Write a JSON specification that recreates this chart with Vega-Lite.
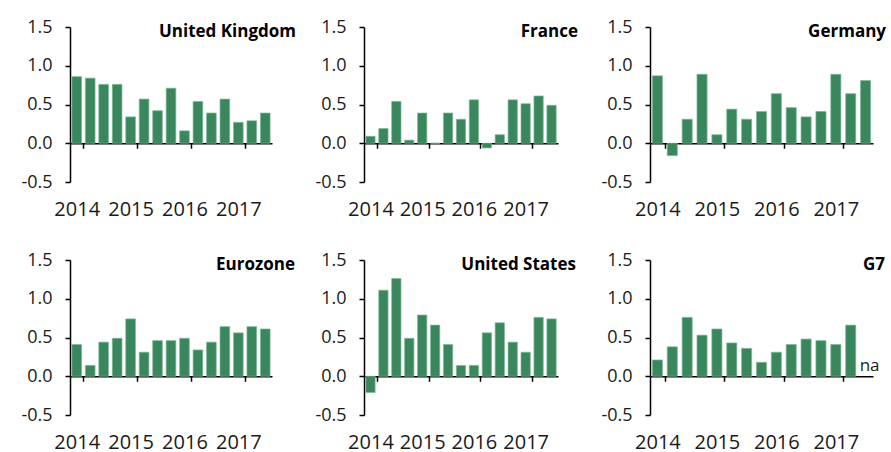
{
  "$schema": "https://vega.github.io/schema/vega-lite/v6.json",
  "background": "white",
  "padding": {"left": 20, "top": 18, "right": 0, "bottom": 0},
  "autosize": {"type": "pad"},
  "config": {
    "font": "Open Sans",
    "view": {"stroke": null},
    "title": {"font": "Open Sans", "fontSize": 17, "fontWeight": "bold", "color": "#000000", "anchor": "end", "frame": "group", "offset": -23},
    "axisY": {"domainColor": "#000000", "domainWidth": 1.5, "tickColor": "#000000", "tickWidth": 1.5, "tickSize": 5, "labelPadding": 13, "labelFontSize": 18, "labelColor": "#1a1a1a", "labelFont": "Open Sans", "labelOverlap": false, "labelFlush": false, "grid": false, "title": null},
    "axisX": {"domain": true, "domainColor": "#000000", "domainWidth": 1.5, "ticks": true, "tickBand": "extent", "tickColor": "#000000", "tickWidth": 1.5, "tickSize": 5, "offset": -38.75, "labelFontSize": 20, "labelColor": "#1a1a1a", "labelFont": "Open Sans", "labelPadding": 51, "labelAngle": 0, "labelOverlap": false, "grid": false, "title": null}
  },
  "datasets": {
    "gdp": [
      {"c": "United Kingdom", "q": "2014Q1", "v": 0.86}, {"c": "United Kingdom", "q": "2014Q2", "v": 0.84}, {"c": "United Kingdom", "q": "2014Q3", "v": 0.76}, {"c": "United Kingdom", "q": "2014Q4", "v": 0.76},
      {"c": "United Kingdom", "q": "2015Q1", "v": 0.34}, {"c": "United Kingdom", "q": "2015Q2", "v": 0.57}, {"c": "United Kingdom", "q": "2015Q3", "v": 0.42}, {"c": "United Kingdom", "q": "2015Q4", "v": 0.71},
      {"c": "United Kingdom", "q": "2016Q1", "v": 0.16}, {"c": "United Kingdom", "q": "2016Q2", "v": 0.54}, {"c": "United Kingdom", "q": "2016Q3", "v": 0.39}, {"c": "United Kingdom", "q": "2016Q4", "v": 0.57},
      {"c": "United Kingdom", "q": "2017Q1", "v": 0.27}, {"c": "United Kingdom", "q": "2017Q2", "v": 0.29}, {"c": "United Kingdom", "q": "2017Q3", "v": 0.39},
      {"c": "France", "q": "2014Q1", "v": 0.09}, {"c": "France", "q": "2014Q2", "v": 0.19}, {"c": "France", "q": "2014Q3", "v": 0.54}, {"c": "France", "q": "2014Q4", "v": 0.04},
      {"c": "France", "q": "2015Q1", "v": 0.39}, {"c": "France", "q": "2015Q2", "v": 0.0}, {"c": "France", "q": "2015Q3", "v": 0.39}, {"c": "France", "q": "2015Q4", "v": 0.31},
      {"c": "France", "q": "2016Q1", "v": 0.56}, {"c": "France", "q": "2016Q2", "v": -0.06}, {"c": "France", "q": "2016Q3", "v": 0.11}, {"c": "France", "q": "2016Q4", "v": 0.56},
      {"c": "France", "q": "2017Q1", "v": 0.51}, {"c": "France", "q": "2017Q2", "v": 0.61}, {"c": "France", "q": "2017Q3", "v": 0.49},
      {"c": "Germany", "q": "2014Q1", "v": 0.87}, {"c": "Germany", "q": "2014Q2", "v": -0.16}, {"c": "Germany", "q": "2014Q3", "v": 0.31}, {"c": "Germany", "q": "2014Q4", "v": 0.89},
      {"c": "Germany", "q": "2015Q1", "v": 0.11}, {"c": "Germany", "q": "2015Q2", "v": 0.44}, {"c": "Germany", "q": "2015Q3", "v": 0.31}, {"c": "Germany", "q": "2015Q4", "v": 0.41},
      {"c": "Germany", "q": "2016Q1", "v": 0.64}, {"c": "Germany", "q": "2016Q2", "v": 0.46}, {"c": "Germany", "q": "2016Q3", "v": 0.34}, {"c": "Germany", "q": "2016Q4", "v": 0.41},
      {"c": "Germany", "q": "2017Q1", "v": 0.89}, {"c": "Germany", "q": "2017Q2", "v": 0.64}, {"c": "Germany", "q": "2017Q3", "v": 0.81},
      {"c": "Eurozone", "q": "2014Q1", "v": 0.41}, {"c": "Eurozone", "q": "2014Q2", "v": 0.14}, {"c": "Eurozone", "q": "2014Q3", "v": 0.44}, {"c": "Eurozone", "q": "2014Q4", "v": 0.49},
      {"c": "Eurozone", "q": "2015Q1", "v": 0.74}, {"c": "Eurozone", "q": "2015Q2", "v": 0.31}, {"c": "Eurozone", "q": "2015Q3", "v": 0.46}, {"c": "Eurozone", "q": "2015Q4", "v": 0.46},
      {"c": "Eurozone", "q": "2016Q1", "v": 0.49}, {"c": "Eurozone", "q": "2016Q2", "v": 0.34}, {"c": "Eurozone", "q": "2016Q3", "v": 0.44}, {"c": "Eurozone", "q": "2016Q4", "v": 0.64},
      {"c": "Eurozone", "q": "2017Q1", "v": 0.56}, {"c": "Eurozone", "q": "2017Q2", "v": 0.64}, {"c": "Eurozone", "q": "2017Q3", "v": 0.61},
      {"c": "United States", "q": "2014Q1", "v": -0.21}, {"c": "United States", "q": "2014Q2", "v": 1.11}, {"c": "United States", "q": "2014Q3", "v": 1.26}, {"c": "United States", "q": "2014Q4", "v": 0.49},
      {"c": "United States", "q": "2015Q1", "v": 0.79}, {"c": "United States", "q": "2015Q2", "v": 0.66}, {"c": "United States", "q": "2015Q3", "v": 0.41}, {"c": "United States", "q": "2015Q4", "v": 0.14},
      {"c": "United States", "q": "2016Q1", "v": 0.14}, {"c": "United States", "q": "2016Q2", "v": 0.56}, {"c": "United States", "q": "2016Q3", "v": 0.69}, {"c": "United States", "q": "2016Q4", "v": 0.44},
      {"c": "United States", "q": "2017Q1", "v": 0.31}, {"c": "United States", "q": "2017Q2", "v": 0.76}, {"c": "United States", "q": "2017Q3", "v": 0.74},
      {"c": "G7", "q": "2014Q1", "v": 0.21}, {"c": "G7", "q": "2014Q2", "v": 0.38}, {"c": "G7", "q": "2014Q3", "v": 0.76}, {"c": "G7", "q": "2014Q4", "v": 0.53},
      {"c": "G7", "q": "2015Q1", "v": 0.61}, {"c": "G7", "q": "2015Q2", "v": 0.43}, {"c": "G7", "q": "2015Q3", "v": 0.36}, {"c": "G7", "q": "2015Q4", "v": 0.18},
      {"c": "G7", "q": "2016Q1", "v": 0.31}, {"c": "G7", "q": "2016Q2", "v": 0.41}, {"c": "G7", "q": "2016Q3", "v": 0.48}, {"c": "G7", "q": "2016Q4", "v": 0.46},
      {"c": "G7", "q": "2017Q1", "v": 0.41}, {"c": "G7", "q": "2017Q2", "v": 0.66}, {"c": "G7", "q": "2017Q3", "v": null, "note": "na"}
    ]
  },
  "data": {"name": "gdp"},
  "columns": 3,
  "spacing": {"column": 92, "row": 78},
  "bounds": "flush",
  "concat": [
    {
      "width": 202, "height": 155,
      "title": {"text": "United Kingdom", "dx": 24},
      "transform": [{"filter": "datum.c === 'United Kingdom'"}],
      "mark": {"type": "bar", "width": {"band": 0.72}, "color": "#3a875e", "stroke": "#80b89b", "strokeWidth": 0.7},
      "encoding": {
        "x": {"field": "q", "type": "ordinal", "scale": {"type": "band", "domain": ["2014Q1","2014Q2","2014Q3","2014Q4","2015Q1","2015Q2","2015Q3","2015Q4","2016Q1","2016Q2","2016Q3","2016Q4","2017Q1","2017Q2","2017Q3"], "paddingInner": 0, "paddingOuter": 0}, "axis": {"labelExpr": "indexof(datum.label, 'Q1') > 0 ? slice(datum.label, 0, 4) : ''", "tickOpacity": {"condition": {"test": "indexof(datum.value + '', 'Q1') > 0", "value": 1}, "value": 0}}},
        "y": {"field": "v", "type": "quantitative", "scale": {"domain": [-0.5, 1.5], "nice": false, "zero": false}, "axis": {"values": [-0.5, 0, 0.5, 1, 1.5], "format": ".1f", "labelOverlap": false, "labelFontSize": 18, "labelExpr": "replace(datum.label, '\u2212', '-')"}}
      }
    },
    {
      "width": 194, "height": 155,
      "title": {"text": "France", "dx": 20},
      "transform": [{"filter": "datum.c === 'France'"}],
      "mark": {"type": "bar", "width": {"band": 0.72}, "color": "#3a875e", "stroke": "#80b89b", "strokeWidth": 0.7},
      "encoding": {
        "x": {"field": "q", "type": "ordinal", "scale": {"type": "band", "domain": ["2014Q1","2014Q2","2014Q3","2014Q4","2015Q1","2015Q2","2015Q3","2015Q4","2016Q1","2016Q2","2016Q3","2016Q4","2017Q1","2017Q2","2017Q3"], "paddingInner": 0, "paddingOuter": 0}, "axis": {"labelExpr": "indexof(datum.label, 'Q1') > 0 ? slice(datum.label, 0, 4) : ''", "tickOpacity": {"condition": {"test": "indexof(datum.value + '', 'Q1') > 0", "value": 1}, "value": 0}}},
        "y": {"field": "v", "type": "quantitative", "scale": {"domain": [-0.5, 1.5], "nice": false, "zero": false}, "axis": {"values": [-0.5, 0, 0.5, 1, 1.5], "format": ".1f", "labelOverlap": false, "labelFontSize": 18, "labelExpr": "replace(datum.label, '\u2212', '-')"}}
      }
    },
    {
      "width": 223, "height": 155,
      "title": {"text": "Germany", "dx": 13},
      "transform": [{"filter": "datum.c === 'Germany'"}],
      "mark": {"type": "bar", "width": {"band": 0.68}, "color": "#3a875e", "stroke": "#80b89b", "strokeWidth": 0.7},
      "encoding": {
        "x": {"field": "q", "type": "ordinal", "scale": {"type": "band", "domain": ["2014Q1","2014Q2","2014Q3","2014Q4","2015Q1","2015Q2","2015Q3","2015Q4","2016Q1","2016Q2","2016Q3","2016Q4","2017Q1","2017Q2","2017Q3"], "paddingInner": 0, "paddingOuter": 0}, "axis": {"labelExpr": "indexof(datum.label, 'Q1') > 0 ? slice(datum.label, 0, 4) : ''", "tickOpacity": {"condition": {"test": "indexof(datum.value + '', 'Q1') > 0", "value": 1}, "value": 0}}},
        "y": {"field": "v", "type": "quantitative", "scale": {"domain": [-0.5, 1.5], "nice": false, "zero": false}, "axis": {"values": [-0.5, 0, 0.5, 1, 1.5], "format": ".1f", "labelOverlap": false, "labelFontSize": 18, "labelExpr": "replace(datum.label, '\u2212', '-')"}}
      }
    },
    {
      "width": 202, "height": 155,
      "title": {"text": "Eurozone", "dx": 23},
      "transform": [{"filter": "datum.c === 'Eurozone'"}],
      "mark": {"type": "bar", "width": {"band": 0.72}, "color": "#3a875e", "stroke": "#80b89b", "strokeWidth": 0.7},
      "encoding": {
        "x": {"field": "q", "type": "ordinal", "scale": {"type": "band", "domain": ["2014Q1","2014Q2","2014Q3","2014Q4","2015Q1","2015Q2","2015Q3","2015Q4","2016Q1","2016Q2","2016Q3","2016Q4","2017Q1","2017Q2","2017Q3"], "paddingInner": 0, "paddingOuter": 0}, "axis": {"labelExpr": "indexof(datum.label, 'Q1') > 0 ? slice(datum.label, 0, 4) : ''", "tickOpacity": {"condition": {"test": "indexof(datum.value + '', 'Q1') > 0", "value": 1}, "value": 0}}},
        "y": {"field": "v", "type": "quantitative", "scale": {"domain": [-0.5, 1.5], "nice": false, "zero": false}, "axis": {"values": [-0.5, 0, 0.5, 1, 1.5], "format": ".1f", "labelOverlap": false, "labelFontSize": 18, "labelExpr": "replace(datum.label, '\u2212', '-')"}}
      }
    },
    {
      "width": 194, "height": 155,
      "title": {"text": "United States", "dx": 18},
      "transform": [{"filter": "datum.c === 'United States'"}],
      "mark": {"type": "bar", "width": {"band": 0.72}, "color": "#3a875e", "stroke": "#80b89b", "strokeWidth": 0.7},
      "encoding": {
        "x": {"field": "q", "type": "ordinal", "scale": {"type": "band", "domain": ["2014Q1","2014Q2","2014Q3","2014Q4","2015Q1","2015Q2","2015Q3","2015Q4","2016Q1","2016Q2","2016Q3","2016Q4","2017Q1","2017Q2","2017Q3"], "paddingInner": 0, "paddingOuter": 0}, "axis": {"labelExpr": "indexof(datum.label, 'Q1') > 0 ? slice(datum.label, 0, 4) : ''", "tickOpacity": {"condition": {"test": "indexof(datum.value + '', 'Q1') > 0", "value": 1}, "value": 0}}},
        "y": {"field": "v", "type": "quantitative", "scale": {"domain": [-0.5, 1.5], "nice": false, "zero": false}, "axis": {"values": [-0.5, 0, 0.5, 1, 1.5], "format": ".1f", "labelOverlap": false, "labelFontSize": 18, "labelExpr": "replace(datum.label, '\u2212', '-')"}}
      }
    },
    {
      "width": 223, "height": 155,
      "title": {"text": "G7", "dx": 12},
      "transform": [{"filter": "datum.c === 'G7'"}],
      "layer": [
        {"mark": {"type": "bar", "width": {"band": 0.68}, "color": "#3a875e", "stroke": "#80b89b", "strokeWidth": 0.7},
         "encoding": {
           "x": {"field": "q", "type": "ordinal", "scale": {"type": "band", "domain": ["2014Q1","2014Q2","2014Q3","2014Q4","2015Q1","2015Q2","2015Q3","2015Q4","2016Q1","2016Q2","2016Q3","2016Q4","2017Q1","2017Q2","2017Q3"], "paddingInner": 0, "paddingOuter": 0}, "axis": {"labelExpr": "indexof(datum.label, 'Q1') > 0 ? slice(datum.label, 0, 4) : ''", "tickOpacity": {"condition": {"test": "indexof(datum.value + '', 'Q1') > 0", "value": 1}, "value": 0}}},
           "y": {"field": "v", "type": "quantitative", "scale": {"domain": [-0.5, 1.5], "nice": false, "zero": false}, "axis": {"values": [-0.5, 0, 0.5, 1, 1.5], "format": ".1f", "labelOverlap": false, "labelFontSize": 18, "labelExpr": "replace(datum.label, '\u2212', '-')"}}
         }},
        {"mark": {"type": "text", "baseline": "bottom", "align": "center", "dx": 4, "dy": 37.5, "fontSize": 17, "color": "#1a1a1a"}, "transform": [{"filter": "datum.note === 'na'"}],
         "encoding": {"x": {"field": "q", "type": "ordinal"}, "text": {"field": "note"}}}
      ]
    }
  ]
}
